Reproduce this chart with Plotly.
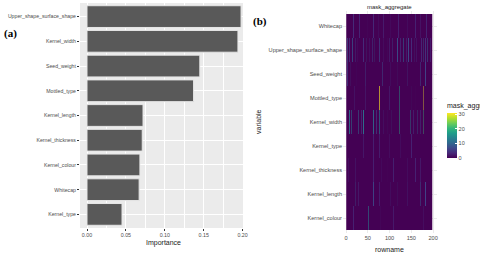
import plotly.graph_objects as go

# ---------------- Data ----------------
# Panel (a): variable importance (bottom -> top)
imp_vars = ["Kernel_type", "Whitecap", "Kernel_colour", "Kernel_thickness", "Kernel_length",
            "Mottled_type", "Seed_weight", "Kernel_width", "Upper_shape_surface_shape"]
imp_vals = [0.045, 0.067, 0.068, 0.071, 0.072, 0.137, 0.145, 0.194, 0.198]
imp_ticks = [0.00, 0.05, 0.10, 0.15, 0.20]
imp_ticklabels = ["0.00", "0.05", "0.10", "0.15", "0.20"]

# Panel (b): mask_aggregate heatmap (bottom -> top)
heat_vars = ["Kernel_colour", "Kernel_length", "Kernel_thickness", "Kernel_type", "Kernel_width",
             "Mottled_type", "Seed_weight", "Upper_shape_surface_shape", "Whitecap"]
n_rows = 197
rowname_ticks = [0, 50, 100, 150, 200]
colorbar_ticks = [0, 10, 20, 30]

# non-zero cells per variable: (rowname, value)
whitecap_cells = [(17, 4), (31, 4), (41, 8), (50, 3), (63, 4), (75, 3), (86, 3), (101, 4), (110, 3),
                  (120, 3), (140, 4), (159, 3), (170, 3), (184, 4)]
upper_shape_cells = [(3, 7), (8, 4), (15, 8), (21, 6), (27, 4), (32, 8), (40, 4), (46, 10), (53, 4),
                     (60, 7), (66, 12), (71, 4), (77, 7), (85, 4), (94, 8), (100, 4), (107, 7), (112, 4),
                     (118, 8), (125, 4), (132, 10), (138, 4), (143, 7), (150, 4), (156, 8), (162, 4),
                     (167, 7), (173, 4), (178, 10), (182, 4), (187, 8), (193, 4)]
seed_weight_cells = [(3, 6), (11, 7), (23, 6), (32, 8), (44, 6), (55, 7), (71, 6), (84, 7), (101, 6),
                     (117, 8), (128, 6), (140, 7), (151, 6), (170, 7), (182, 6)]
mottled_cells = [(2, 20), (9, 30), (20, 4), (45, 3), (77, 31), (100, 4), (123, 18), (149, 12),
                 (160, 3), (178, 30)]
kernel_width_cells = [(2, 11), (8, 12), (13, 13), (18, 5), (28, 11), (35, 5), (40, 12), (48, 5), (55, 21),
                      (63, 11), (70, 5), (77, 13), (85, 5), (94, 11), (105, 12), (112, 5), (123, 19),
                      (135, 5), (147, 15), (155, 5), (163, 11), (170, 5), (178, 21), (190, 5)]
kernel_type_cells = [(40, 2), (63, 3), (77, 4), (100, 2), (124, 3), (150, 3)]
kernel_thickness_cells = [(5, 3), (21, 4), (32, 3), (48, 4), (63, 3), (82, 4), (94, 3), (109, 4),
                          (128, 3), (140, 4), (159, 3), (170, 4)]
kernel_length_cells = [(9, 6), (21, 7), (28, 4), (48, 6), (63, 7), (77, 4), (101, 6), (117, 8),
                       (140, 6), (151, 7), (170, 8), (182, 6)]
kernel_colour_cells = [(17, 3), (51, 13), (78, 4), (109, 3), (151, 4), (178, 3)]

cells_by_var = {
    "Kernel_colour": kernel_colour_cells,
    "Kernel_length": kernel_length_cells,
    "Kernel_thickness": kernel_thickness_cells,
    "Kernel_type": kernel_type_cells,
    "Kernel_width": kernel_width_cells,
    "Mottled_type": mottled_cells,
    "Seed_weight": seed_weight_cells,
    "Upper_shape_surface_shape": upper_shape_cells,
    "Whitecap": whitecap_cells,
}

rownames = list(range(1, n_rows + 1))

# ---------------- Figure ----------------
W, H = 480, 254
def px(x):
    return x / W
def py(y):
    return 1 - y / H

FONT = "Liberation Sans, Arial, sans-serif"
AXTXT = "#4D4D4D"

fig = go.Figure()

fig.add_trace(go.Bar(
    x=imp_vals, y=imp_vars, orientation="h",
    marker=dict(color="#595959", line=dict(color="#E6E6E6", width=1)),
    width=0.88, xaxis="x", yaxis="y", showlegend=False,
))

# one heatmap strip per variable (shared colour axis); y given as the strip's edges
for i, v in enumerate(heat_vars):
    row = [0] * n_rows
    for r, val in cells_by_var[v]:
        row[r - 1] = val
    fig.add_trace(go.Heatmap(
        z=[row], x=rownames, y=[i - 0.5, i + 0.5], coloraxis="coloraxis",
        xaxis="x2", yaxis="y2", zsmooth="fast", name=v,
    ))

fig.update_layout(
    width=W, height=H, autosize=False,
    margin=dict(l=0, r=0, t=0, b=0, autoexpand=False),
    paper_bgcolor="white", plot_bgcolor="white",
    font=dict(family=FONT, size=6, color=AXTXT),
    bargap=0.1,
    coloraxis=dict(
        colorscale="Viridis", cmin=0, cmax=31,
        colorbar=dict(
            x=px(447), xanchor="left", y=py(129), yanchor="middle",
            len=58 / H, lenmode="fraction", thickness=10, thicknessmode="pixels",
            outlinewidth=0, xpad=0, ypad=0,
            tickvals=colorbar_ticks, ticks="inside", ticklen=2, tickcolor="white",
            tickfont=dict(size=5.5, color=AXTXT, family=FONT),
            title=dict(text="mask_aggregate", side="top", font=dict(size=7, color="#1A1A1A", family=FONT)),
        ),
    ),
    shapes=[dict(type="rect", xref="paper", yref="paper", x0=px(80), x1=px(243), y0=py(228), y1=py(3),
                 fillcolor="#EBEBEB", line=dict(width=0), layer="below")],
    xaxis=dict(
        domain=[px(80), px(243)], range=[-0.009, 0.2005], anchor="y", automargin=False,
        tickvals=imp_ticks, ticktext=imp_ticklabels, ticks="outside", ticklen=2, tickcolor="#333333",
        tickwidth=0.6, tickfont=dict(size=5.3, color=AXTXT),
        showgrid=True, gridcolor="white", gridwidth=1, zeroline=False, showline=False,
        minor=dict(dtick=0.025, tick0=0.025, showgrid=True, gridcolor="white", gridwidth=0.5),
    ),
    yaxis=dict(
        domain=[py(228), py(3)], range=[-0.55, 8.55], anchor="x", automargin=False,
        categoryorder="array", categoryarray=imp_vars,
        ticks="outside", ticklen=2, tickcolor="#333333", tickwidth=0.6,
        tickfont=dict(size=5.2, color=AXTXT),
        showgrid=True, gridcolor="white", gridwidth=1, zeroline=False, showline=False,
    ),
    xaxis2=dict(
        domain=[px(343), px(437)], range=[-7, 209], anchor="y2", automargin=False,
        tickvals=rowname_ticks, ticks="", tickfont=dict(size=5.6, color=AXTXT),
        showgrid=True, gridcolor="#EBEBEB", gridwidth=0.6, zeroline=False, showline=False,
    ),
    yaxis2=dict(
        domain=[py(233), py(11)], range=[-0.625, 8.625], anchor="x2", automargin=False,
        type="linear", tickvals=list(range(len(heat_vars))), ticktext=heat_vars,
        ticks="", tickfont=dict(size=5.6, color=AXTXT),
        showgrid=True, gridcolor="#EBEBEB", gridwidth=0.6, zeroline=False, showline=False,
    ),
    annotations=[
        dict(text="Importance", x=px(163), y=py(243), xref="paper", yref="paper",
             showarrow=False, font=dict(size=7, color="#1A1A1A"), xanchor="center", yanchor="middle"),
        dict(text="rowname", x=px(389), y=py(249), xref="paper", yref="paper",
             showarrow=False, font=dict(size=7, color="#1A1A1A"), xanchor="center", yanchor="middle"),
        dict(text="variable", x=px(258), y=py(122), xref="paper", yref="paper", textangle=-90,
             showarrow=False, font=dict(size=7, color="#1A1A1A"), xanchor="center", yanchor="middle"),
        dict(text="mask_aggregate", x=px(389), y=py(7), xref="paper", yref="paper",
             showarrow=False, font=dict(size=6, color="#1A1A1A"), xanchor="center", yanchor="middle"),
        dict(text="<b>(a)</b>", x=px(10), y=py(33), xref="paper", yref="paper",
             showarrow=False, font=dict(size=11, color="black", family="Liberation Serif, Times New Roman, serif"),
             xanchor="center", yanchor="middle"),
        dict(text="<b>(b)</b>", x=px(260), y=py(22), xref="paper", yref="paper",
             showarrow=False, font=dict(size=11, color="black", family="Liberation Serif, Times New Roman, serif"),
             xanchor="center", yanchor="middle"),
    ],
)

fig.write_html("out.html", config={"displayModeBar": False},
               post_script="document.body.style.margin='0px';document.body.style.overflow='hidden';")
